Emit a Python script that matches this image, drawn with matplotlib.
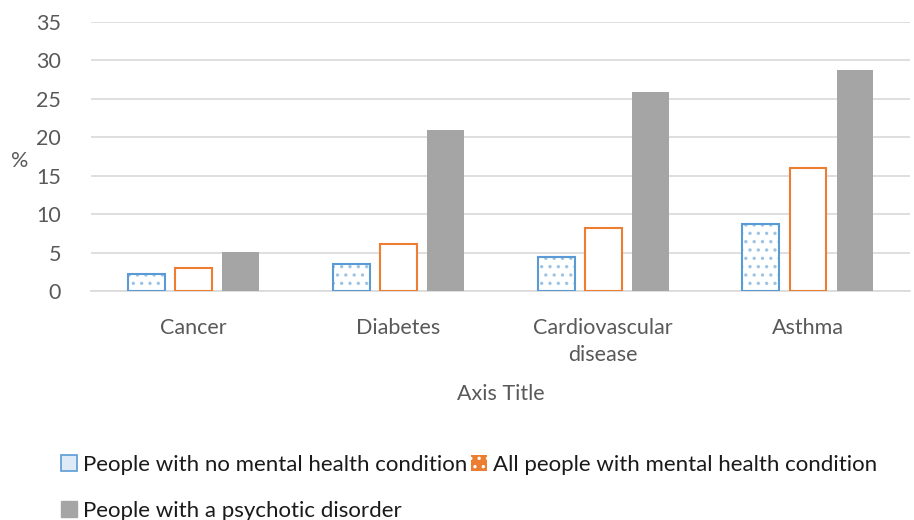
import numpy as np
import matplotlib
matplotlib.use('Agg')
from matplotlib import pyplot as plt
from matplotlib.patches import Patch

plt.rcParams['font.family'] = ['Lato', 'DejaVu Sans']
plt.rcParams['hatch.linewidth'] = 1.2

categories = ['Cancer', 'Diabetes', 'Cardiovascular\ndisease', 'Asthma']
no_condition = [2.2, 3.5, 4.5, 8.7]
mental_condition = [3.0, 6.1, 8.2, 16.0]
psychotic = [5.1, 20.9, 25.9, 28.7]
labels = ['People with no mental health condition',
          'All people with mental health condition',
          'People with a psychotic disorder']

blue = '#5B9BD5'
lightblue = '#9DC3E6'
orange = '#ED7D31'
grey = '#A5A5A5'
txt = '#595959'
fs = 15.5

fig = plt.figure(figsize=(9.14, 5.2), dpi=100)
ax = fig.add_axes([0.1, 0.44, 0.896, 0.518])

x = np.arange(len(categories))
w = 0.18
off = 0.23
# dotted fill first, then the outline on top
ax.bar(x - off, no_condition, w, facecolor='white', edgecolor=lightblue, hatch='..', linewidth=0, zorder=3)
ax.bar(x - off, no_condition, w, facecolor='none', edgecolor=blue, linewidth=1.5, zorder=4)
ax.bar(x, mental_condition, w, facecolor='white', edgecolor=orange, linewidth=1.5, zorder=3)
ax.bar(x + off, psychotic, w, color=grey, zorder=3)

ax.set_xlim(-0.5, 3.5)
ax.set_ylim(0, 35)
ax.set_yticks(range(0, 36, 5))
ax.set_xticks(x)
ax.set_xticklabels(categories, fontsize=fs, color=txt, linespacing=1.45)
ax.tick_params(axis='y', labelsize=fs, labelcolor=txt, length=0, pad=22)
ax.tick_params(axis='x', length=0, pad=19)
ax.grid(axis='y', color='#D9D9D9', linewidth=1.2, zorder=0)
for s in ['top', 'right', 'left']:
    ax.spines[s].set_visible(False)
ax.spines['bottom'].set_color('#D9D9D9')
ax.spines['bottom'].set_linewidth(1.2)

ax.set_ylabel('%', fontsize=fs, color=txt, rotation=0, va='center')
ax.yaxis.set_label_coords(-0.087, 0.485)
ax.set_xlabel('Axis Title', fontsize=fs, color=txt, labelpad=14)

h1 = Patch(facecolor='#DEEBF7', edgecolor=blue, linewidth=1.2, label=labels[0])
h2 = Patch(facecolor=orange, edgecolor='white', hatch='..', linewidth=0, label=labels[1])
h3 = Patch(facecolor=grey, edgecolor=grey, label=labels[2])
fig.legend(handles=[h1, h3, h2], labels=[labels[0], labels[2], labels[1]],
           ncol=2, loc='upper left', bbox_to_anchor=(0.067, 0.125), frameon=False,
           fontsize=16, handlelength=0.7, handleheight=0.7, handletextpad=0.3,
           columnspacing=0.15, labelspacing=1.15, borderaxespad=0, borderpad=0,
           labelcolor='#1a1a1a')

plt.savefig('out.png', dpi=100)
